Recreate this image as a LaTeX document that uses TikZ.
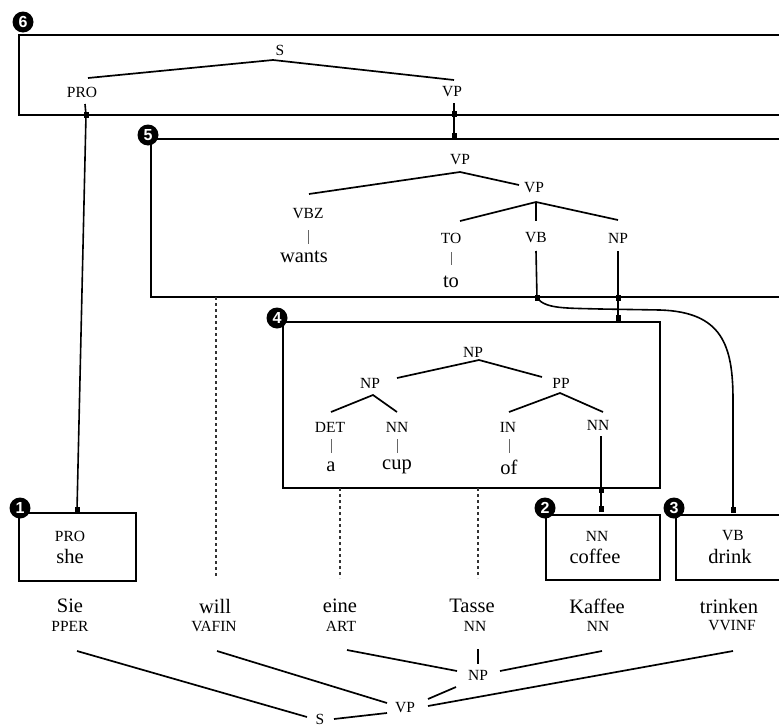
\documentclass[tikz,border=0pt]{standalone}
\usepackage{fontspec}
\setmainfont{Liberation Serif}
\newfontfamily\numfont{Liberation Sans}
\begin{document}
\begin{tikzpicture}[x=1pt,y=-1pt,
  lab/.style={font=\fontsize{15.5}{17}\selectfont, inner sep=1pt},
  wrd/.style={font=\fontsize{20.5}{22}\selectfont, inner sep=1pt},
  boxst/.style={draw, line width=1.6pt, anchor=north west, inner sep=0pt},
  tl/.style={line width=1.7pt},
  bar/.style={line width=0.8pt, black!60},
  num/.style={circle, fill=black, text=white, inner sep=0pt, minimum size=21pt, font=\numfont\bfseries\fontsize{16}{16}\selectfont},
  sq/.style={fill=black, inner sep=0pt, minimum width=5pt, minimum height=6pt},
  dsh/.style={line width=1.2pt, black!80, dash pattern=on 3pt off 3pt},
  conn/.style={line width=1.6pt}]
\useasboundingbox (0,0) rectangle (779,728);
\clip (0,0) rectangle (779,728);

% ---------- box 6 ----------
\node[boxst, minimum width=800pt, minimum height=80pt] (b6) at (18,34) {};
\node[num] (n6) at (23,22) {6};
\node[lab] (s6) at (280,50) {S};
\node[lab] (pro6) at (82,92) {PRO};
\node[lab] (vp6) at (452,92) {VP};
\coordinate (s6t) at (273,60);
\coordinate (pro6t) at (88,78);
\coordinate (vp6t) at (454,80);
\draw[tl] (pro6t) -- (s6t) -- (vp6t);

% ---------- box 5 ----------
\node[boxst, minimum width=700pt, minimum height=158pt] (b5) at (150,138) {};
\node[num] (n5) at (148,135) {5};
\node[lab] (vp5) at (460,160) {VP};
\node[lab] (vbz) at (308,214) {VBZ};
\node[wrd] (wants) at (304,257) {wants};
\node[lab] (vp5b) at (534,188) {VP};
\node[lab] (to5) at (451,238) {TO};
\node[lab] (vb5) at (536,238) {VB};
\node[lab] (np5) at (618,238) {NP};
\node[wrd] (tow) at (451,282) {to};
\coordinate (vp5t) at (460,172);
\coordinate (vbzt) at (309,194);
\coordinate (vp5bt) at (519,185);
\coordinate (vp5ba) at (536,202);
\coordinate (to5t) at (460,221);
\coordinate (vb5t) at (536,221);
\coordinate (np5t) at (618,220);
\draw[tl] (vbzt) -- (vp5t) -- (vp5bt);
\draw[tl] (to5t) -- (vp5ba) -- (np5t);
\draw[tl] (vp5ba) -- (vb5t);
\draw[bar] (308,230) -- (308,244);
\draw[bar] (451,252) -- (451,265);

% ---------- box 4 ----------
\node[boxst, minimum width=377pt, minimum height=166pt] (b4) at (282,321) {};
\node[num] (n4) at (277,318) {4};
\node[lab] (np4) at (473,352) {NP};
\node[lab] (np4l) at (370,383) {NP};
\node[lab] (pp4) at (561,383) {PP};
\node[lab] (det4) at (330,427) {DET};
\node[lab] (nn4a) at (397,427) {NN};
\node[lab] (in4) at (508,427) {IN};
\node[lab] (nn4b) at (598,425) {NN};
\node[wrd] (aw) at (331,467) {a};
\node[wrd] (cupw) at (397,467) {cup};
\node[wrd] (ofw) at (509,467) {of};
\coordinate (np4a) at (479,360);
\coordinate (np4le) at (397,378);
\coordinate (pp4e) at (542,377);
\coordinate (np4la) at (373,395);
\coordinate (det4e) at (331,412);
\coordinate (nn4ae) at (397,412);
\coordinate (pp4a) at (560,393);
\coordinate (in4e) at (509,412);
\coordinate (nn4be) at (603,412);
\draw[tl] (np4le) -- (np4a) -- (pp4e);
\draw[tl] (det4e) -- (np4la) -- (nn4ae);
\draw[tl] (in4e) -- (pp4a) -- (nn4be);
\draw[bar] (331,439) -- (331,453);
\draw[bar] (397,439) -- (397,453);
\draw[bar] (509,439) -- (509,453);

% ---------- small boxes ----------
\node[boxst, minimum width=117pt, minimum height=68pt] (b1) at (18,512) {};
\node[num] (n1) at (20,508) {1};
\node[lab] (pro1) at (70,536) {PRO};
\node[wrd] (she) at (70,556) {she};

\node[boxst, minimum width=114pt, minimum height=65pt] (b2) at (545,514) {};
\node[num] (n2) at (545,508) {2};
\node[lab] (nn2) at (597,536) {NN};
\node[wrd] (coffee) at (595,556) {coffee};

\node[boxst, minimum width=200pt, minimum height=65pt] (b3) at (675,514) {};
\node[num] (n3) at (674,508) {3};
\node[lab] (vb3) at (733,536) {VB};
\node[wrd] (drink) at (730,556) {drink};

% ---------- connectors with dots ----------
\coordinate (pro6b) at (85,104);
\node[sq] (d1) at (86,115) {};
\node[sq] (d2) at (77,510) {};
\draw[conn] (pro6b) -- (d1.center) -- (d2.center);

\coordinate (vp6b) at (454,103);
\node[sq] (d3) at (454,114) {};
\node[sq] (d4) at (454,136) {};
\draw[conn] (vp6b) -- (d3.center) -- (d4.center);

\coordinate (vb5b) at (536,251);
\node[sq] (d5) at (537,298) {};
\node[sq] (d6) at (733,510) {};
\draw[conn] (vb5b) -- (d5.center) .. controls (546,309) and (565,308) .. (600,309)
  -- (660,310) .. controls (722,312) and (733,345) .. (733,400) -- (d6.center);

\coordinate (np5b) at (618,251);
\node[sq] (d7) at (618,298) {};
\node[sq] (d8) at (618,318) {};
\draw[conn] (np5b) -- (d7.center) -- (d8.center);

\coordinate (nn4bb) at (601,436);
\node[sq] (d9) at (601,490) {};
\node[sq] (d10) at (601,509) {};
\draw[conn] (nn4bb) -- (d9.center) -- (d10.center);

% ---------- dashed alignments ----------
\coordinate (da1) at (216,297); \coordinate (db1) at (216,578);
\coordinate (da2) at (340,488); \coordinate (db2) at (340,578);
\coordinate (da3) at (478,488); \coordinate (db3) at (478,578);
\draw[dsh] (da1) -- (db1);
\draw[dsh] (da2) -- (db2);
\draw[dsh] (da3) -- (db3);

% ---------- German sentence ----------
\node[wrd] (sie) at (70,606) {Sie};
\node[lab] (pper) at (70,626) {PPER};
\node[wrd] (will) at (215,606) {will};
\node[lab] (vafin) at (214,626) {VAFIN};
\node[wrd] (eine) at (340,606) {eine};
\node[lab] (art) at (341,626) {ART};
\node[wrd] (tasse) at (472,606) {Tasse};
\node[lab] (nnt) at (475,626) {NN};
\node[wrd] (kaffee) at (597,606) {Kaffee};
\node[lab] (nnk) at (598,626) {NN};
\node[wrd] (trinken) at (729,606) {trinken};
\node[lab] (vvinf) at (732,626) {VVINF};

\node[lab] (sb) at (320,719) {S};
\node[lab] (vpb) at (405,708) {VP};
\node[lab] (npb) at (478,675) {NP};

\coordinate (sie1) at (77,651);  \coordinate (sb1) at (307,717);
\coordinate (sb2) at (334,719);  \coordinate (vpb1) at (387,713);
\coordinate (will1) at (217,651); \coordinate (vpb2) at (387,703);
\coordinate (vpb3) at (428,699); \coordinate (npb1) at (456,687);
\coordinate (vpb4) at (428,706); \coordinate (trk1) at (733,651);
\coordinate (eine1) at (347,650); \coordinate (npb2) at (457,671);
\coordinate (tas1) at (478,649); \coordinate (npb3) at (478,664);
\coordinate (npb4) at (500,671); \coordinate (kaf1) at (602,651);
\draw[tl] (sie1) -- (sb1);
\draw[tl] (sb2) -- (vpb1);
\draw[tl] (will1) -- (vpb2);
\draw[tl] (vpb3) -- (npb1);
\draw[tl] (vpb4) -- (trk1);
\draw[tl] (eine1) -- (npb2);
\draw[tl] (tas1) -- (npb3);
\draw[tl] (npb4) -- (kaf1);
\end{tikzpicture}
\end{document}
